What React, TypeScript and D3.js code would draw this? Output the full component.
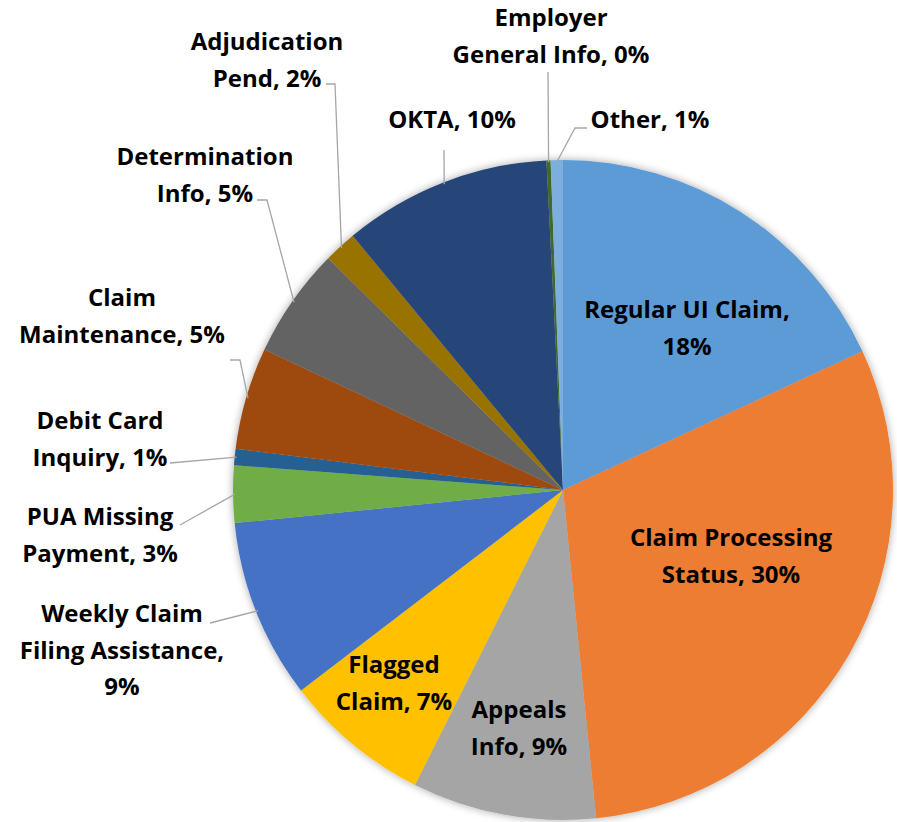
import React from "react";
import * as d3 from "d3";

const categories = [
  "Regular UI Claim",
  "Claim Processing Status",
  "Appeals Info",
  "Flagged Claim",
  "Weekly Claim Filing Assistance",
  "PUA Missing Payment",
  "Debit Card Inquiry",
  "Claim Maintenance",
  "Determination Info",
  "Adjudication Pend",
  "OKTA",
  "Employer General Info",
  "Other",
];
const values = [18.1, 30.3, 9.0, 7.2, 8.8, 2.8, 0.8, 5.0, 5.4, 1.6, 10.2, 0.2, 0.6];
const colors = [
  "#5B9BD5", "#ED7D31", "#A5A5A5", "#FFC000", "#4472C4", "#70AD47", "#255E91",
  "#9E480E", "#636363", "#997300", "#264478", "#43682B", "#7CAFDD",
];
// label text lines (with rounded percentage)
const labelLines = [
  ["Regular UI Claim,", "18%"],
  ["Claim Processing", "Status, 30%"],
  ["Appeals", "Info, 9%"],
  ["Flagged", "Claim, 7%"],
  ["Weekly Claim", "Filing Assistance,", "9%"],
  ["PUA Missing", "Payment, 3%"],
  ["Debit Card", "Inquiry, 1%"],
  ["Claim", "Maintenance, 5%"],
  ["Determination", "Info, 5%"],
  ["Adjudication", "Pend, 2%"],
  ["OKTA, 10%"],
  ["Employer", "General Info, 0%"],
  ["Other, 1%"],
];

// layout: label center x, first baseline y, leader line polyline start points (label side)
const layout: { x: number; y: number; leader?: [number, number][] }[] = [
  { x: 687, y: 318 },
  { x: 731, y: 546 },
  { x: 519, y: 718 },
  { x: 394, y: 673 },
  { x: 122, y: 622, leader: [[210, 623]] },
  { x: 100, y: 525, leader: [[180, 525]] },
  { x: 100, y: 429, leader: [[170, 463]] },
  { x: 122, y: 306, leader: [[230, 360], [240, 360]] },
  { x: 205, y: 165, leader: [[257, 200], [267, 200]] },
  { x: 267, y: 50, leader: [[326, 84], [335, 84]] },
  { x: 452, y: 128, leader: [[444, 150]] },
  { x: 551, y: 26, leader: [[548, 72]] },
  { x: 650, y: 128, leader: [[587, 128], [575, 128]] },
];

const W = 897;
const H = 822;
const cx = 563;
const cy = 490;
const R = 330;
const lineH = 36.5;

export default function App() {
  const pie = d3.pie<number>().sort(null).value((d) => d)(values);
  const arc = d3.arc<d3.PieArcDatum<number>>().innerRadius(0).outerRadius(R);
  const edgeArc = d3.arc<d3.PieArcDatum<number>>().innerRadius(R * 2 - 4).outerRadius(R * 2 - 4);

  return (
    <svg width={W} height={H} style={{ position: "absolute", left: 0, top: 0 }}>
      <defs>
        <filter id="sh" x="-20%" y="-20%" width="140%" height="140%">
          <feGaussianBlur in="SourceAlpha" stdDeviation="4" />
          <feOffset dx="0" dy="0" result="b" />
          <feComponentTransfer>
            <feFuncA type="linear" slope="0.35" />
          </feComponentTransfer>
          <feMerge>
            <feMergeNode />
            <feMergeNode in="SourceGraphic" />
          </feMerge>
        </filter>
      </defs>
      <rect width={W} height={H} fill="#fff" />
      <g transform={`translate(${cx},${cy})`} filter="url(#sh)">
        {pie.map((p, i) => (
          <path key={categories[i]} d={arc(p) || ""} fill={colors[i]} />
        ))}
      </g>
      <g fill="none" stroke="#A6A6A6" strokeWidth={1.3}>
        {pie.map((p, i) => {
          const L = layout[i];
          if (!L.leader) return null;
          const [ex, ey] = edgeArc.centroid(p);
          const pts = [...L.leader, [cx + ex / 2, cy + ey / 2]];
          return <polyline key={i} points={pts.map((q) => q.join(",")).join(" ")} />;
        })}
      </g>
      <g fontFamily="'Open Sans', sans-serif" fontWeight="bold" fontSize={24} fill="#000" textAnchor="middle">
        {labelLines.map((lines, i) => (
          <text key={i} x={layout[i].x} y={layout[i].y}>
            {lines.map((t, j) => (
              <tspan key={j} x={layout[i].x} y={layout[i].y + j * lineH}>
                {t}
              </tspan>
            ))}
          </text>
        ))}
      </g>
    </svg>
  );
}
